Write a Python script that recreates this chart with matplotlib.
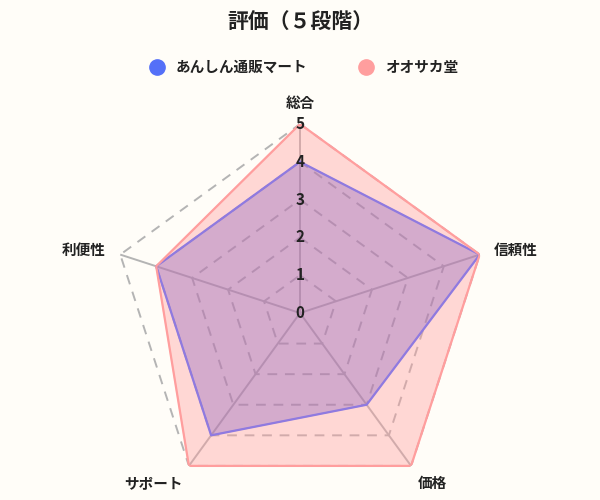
import numpy as np
import matplotlib.pyplot as plt
from matplotlib.lines import Line2D

plt.rcParams['font.family'] = ['Noto Sans CJK JP', 'DejaVu Sans']

# data
categories = ['総合', '信頼性', '価格', 'サポート', '利便性']
anshin = [4, 5, 3, 4, 4]
osaka = [5, 5, 5, 5, 4]
series_names = ['あんしん通販マート', 'オオサカ堂']
ticks = [0, 1, 2, 3, 4, 5]

bg = '#fffdf8'
blue = '#5470f8'
blue_line = '#8f7ae0'
pink = '#ff9e9e'
grid_c = '#b4b4b4'

fig = plt.figure(figsize=(6, 5), dpi=100, facecolor=bg)
ax = fig.add_axes([0.185, -0.004, 0.63, 0.756], projection='polar')
ax.set_facecolor('none')
ax.set_theta_offset(np.pi / 2)
ax.set_theta_direction(-1)
ax.set_ylim(0, 5)
ax.grid(False)
ax.spines['polar'].set_visible(False)
ax.set_xticks([])
ax.set_yticks([])

n = len(categories)
angles = np.linspace(0, 2 * np.pi, n, endpoint=False)
closed = np.append(angles, angles[0])

# dashed rings
for t in ticks[1:]:
    ax.plot(closed, [t] * (n + 1), color=grid_c, lw=1.4, ls=(0, (5, 4)), zorder=1)
# spokes
for a in angles:
    ax.plot([a, a], [0, 5], color=grid_c, lw=1.4, zorder=1)

# series
vals_o = osaka + osaka[:1]
ax.fill(closed, vals_o, color=pink, alpha=0.4, zorder=2)
ax.plot(closed, vals_o, color=pink, lw=1.6, zorder=4)

vals_a = anshin + anshin[:1]
ax.fill(closed, vals_a, color='#845bbf', alpha=0.35, zorder=3)
ax.plot(closed, vals_a, color=blue_line, lw=1.6, zorder=3)

# scale labels
for t in ticks:
    ax.text(0, t, str(t), ha='center', va='center', fontsize=11,
            fontweight='bold', color='#222222', zorder=5)

# category labels
lab_pos = [(5.35, 'center', 'bottom'), (5.4, 'left', 'center'),
           (5.3, 'left', 'top'), (5.3, 'right', 'top'), (5.4, 'right', 'center')]
for a, c, (r, ha, va) in zip(angles, categories, lab_pos):
    ax.text(a, r, c, ha=ha, va=va, fontsize=10.5, fontweight='bold', color='#222222')

fig.text(0.5, 0.955, '評価（５段階）', ha='center', va='center', fontsize=15,
         fontweight='bold', color='#222222')

handles = [Line2D([], [], marker='o', ls='none', markersize=11, color=blue),
           Line2D([], [], marker='o', ls='none', markersize=11, color=pink)]
leg = fig.legend(handles, series_names, loc='center', bbox_to_anchor=(0.5, 0.866),
                 ncol=2, frameon=False, handletextpad=0.3, columnspacing=3.0,
                 prop={'weight': 'bold', 'size': 10.5})
for t in leg.get_texts():
    t.set_color('#222222')

fig.savefig('out.png', dpi=100, facecolor=bg)
